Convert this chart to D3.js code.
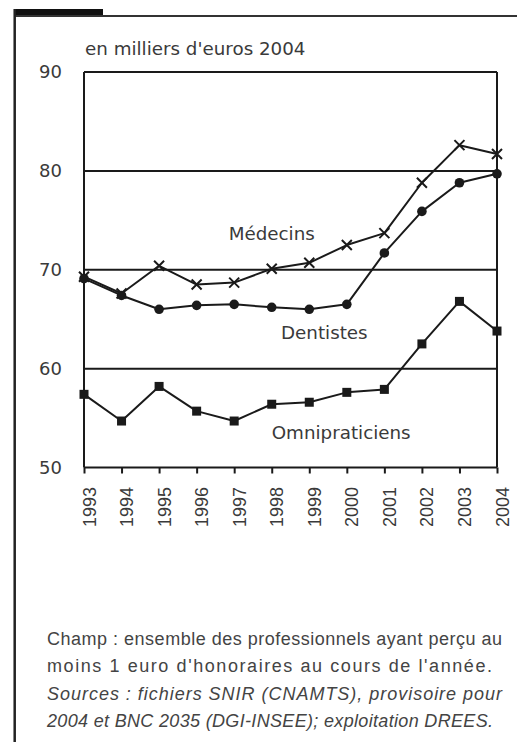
<!DOCTYPE html>
<html>
<head>
<meta charset="utf-8">
<script src="https://cdn.jsdelivr.net/npm/d3@7"></script>
<style>
html,body{margin:0;padding:0;background:#fff;}
svg{display:block;}
</style>
</head>
<body>
<svg id="chart" width="517" height="742"></svg>
<script>
const years = [1993,1994,1995,1996,1997,1998,1999,2000,2001,2002,2003,2004];
const medecins = [69.3,67.6,70.4,68.5,68.7,70.1,70.7,72.5,73.7,78.8,82.6,81.7];
const dentistes = [69.1,67.4,66.0,66.4,66.5,66.2,66.0,66.5,71.7,75.9,78.8,79.7];
const omnipraticiens = [57.4,54.7,58.2,55.7,54.7,56.4,56.6,57.6,57.9,62.5,66.8,63.8];
const yTicks = [50,60,70,80,90];
const seriesNames = ["Médecins","Dentistes","Omnipraticiens"];
const labelYears = [1998.0,1999.4,1999.85];
const labelValues = [73.0,63.0,52.9];
const titleText = "en milliers d'euros 2004";
const footLines = [
  "Champ : ensemble des professionnels ayant perçu au",
  "moins 1 euro d'honoraires au cours de l'année.",
  "Sources : fichiers SNIR (CNAMTS), provisoire pour",
  "2004 et BNC 2035 (DGI-INSEE); exploitation DREES."
];

const svg = d3.select("#chart");
const ink = "#1a1a1a";
const txt = "#3a3a3a";

// page frame
svg.append("rect").attr("x",14).attr("y",9).attr("width",89).attr("height",7).attr("fill","#111");
svg.append("line").attr("x1",14).attr("x2",517).attr("y1",16).attr("y2",16).attr("stroke","#333").attr("stroke-width",2);
svg.append("line").attr("x1",14.7).attr("x2",14.7).attr("y1",9).attr("y2",742).attr("stroke","#222").attr("stroke-width",2.5);

const x = d3.scaleLinear().domain([1993,2004]).range([84,497]);
const y = d3.scaleLinear().domain([50,90]).range([467.5,72]);

// title
svg.append("text").attr("x",85).attr("y",55)
  .attr("font-family","DejaVu Sans").attr("font-size",18.3).attr("fill",txt).text(titleText);

// grid lines
const g = svg.append("g");
g.selectAll("line.grid").data(yTicks).enter().append("line")
  .attr("x1",x(1993)).attr("x2",x(2004))
  .attr("y1",d=>y(d)).attr("y2",d=>y(d))
  .attr("stroke",ink).attr("stroke-width",2);
// left and right frame
g.append("line").attr("x1",x(1993)).attr("x2",x(1993)).attr("y1",y(90)).attr("y2",y(50)).attr("stroke",ink).attr("stroke-width",2);
g.append("line").attr("x1",x(2004)).attr("x2",x(2004)).attr("y1",y(90)).attr("y2",y(50)).attr("stroke",ink).attr("stroke-width",2);

// y labels
g.selectAll("text.ylab").data(yTicks).enter().append("text")
  .attr("x",62).attr("y",d=>y(d)).attr("dy","0.36em")
  .attr("text-anchor","end").attr("font-family","DejaVu Sans").attr("font-size",18)
  .attr("fill",txt).text(d=>d);

// x axis ticks and labels
const xAxis = d3.axisBottom(x).tickValues(years).tickFormat(d3.format("d")).tickSize(6).tickSizeOuter(0);
const ax = svg.append("g").attr("transform",`translate(0,${y(50)})`).call(xAxis);
ax.select(".domain").remove();
ax.selectAll(".tick line").attr("stroke",ink).attr("stroke-width",2);
ax.selectAll(".tick text")
  .attr("font-family","Liberation Sans").attr("font-size",18).attr("fill",txt)
  .attr("text-anchor","end")
  .attr("transform","rotate(-90)")
  .attr("x",-19.5).attr("y",11).attr("dy",0);

// series
const line = d3.line().x((d,i)=>x(years[i])).y(d=>y(d));
[medecins,dentistes,omnipraticiens].forEach(s=>{
  svg.append("path").datum(s).attr("d",line).attr("fill","none")
    .attr("stroke",ink).attr("stroke-width",2).attr("stroke-linejoin","round");
});

// markers
svg.selectAll("path.cross").data(medecins).enter().append("path")
  .attr("d",(d,i)=>{const cx=x(years[i]), cy=y(d), r=5;
    return `M${cx-r},${cy-r}L${cx+r},${cy+r}M${cx-r},${cy+r}L${cx+r},${cy-r}`;})
  .attr("stroke",ink).attr("stroke-width",2);
svg.selectAll("circle.dent").data(dentistes).enter().append("circle")
  .attr("cx",(d,i)=>x(years[i])).attr("cy",d=>y(d)).attr("r",4.8).attr("fill",ink);
svg.selectAll("rect.omni").data(omnipraticiens).enter().append("rect")
  .attr("x",(d,i)=>x(years[i])-4.5).attr("y",d=>y(d)-4.5).attr("width",9).attr("height",9).attr("fill",ink);

// series labels
svg.selectAll("text.slab").data(seriesNames).enter().append("text")
  .attr("x",(d,i)=>x(labelYears[i])).attr("y",(d,i)=>y(labelValues[i]))
  .attr("text-anchor","middle").attr("font-family","DejaVu Sans").attr("font-size",18.3)
  .attr("fill",txt).text(d=>d);

// footer
const footY = [645,672,700,727];
const footLen = [455,445,455,446];
svg.selectAll("text.foot").data(footLines).enter().append("text")
  .attr("x",47).attr("y",(d,i)=>footY[i])
  .attr("font-family","Liberation Sans").attr("font-size",18)
  .attr("font-style",(d,i)=>i>=2?"italic":"normal")
  .attr("fill","#444")
  .attr("textLength",(d,i)=>footLen[i]).attr("lengthAdjust","spacing")
  .text(d=>d);
</script>
</body>
</html>
